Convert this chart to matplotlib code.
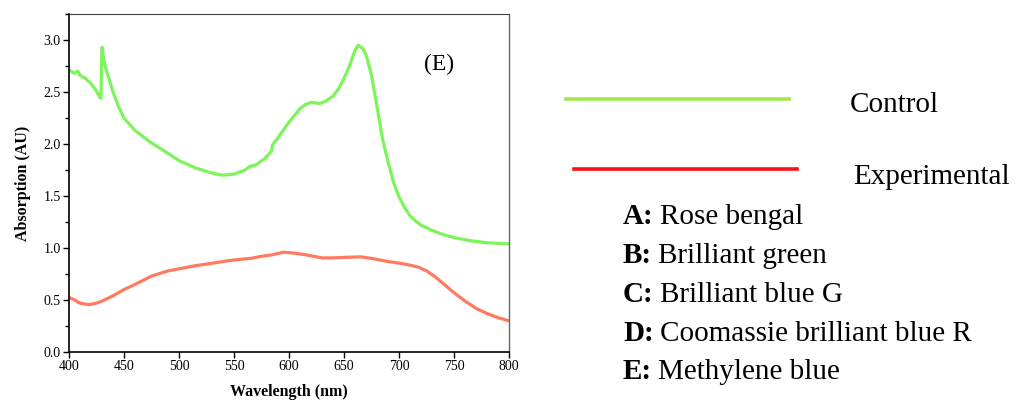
import matplotlib
matplotlib.use("Agg")
import matplotlib.pyplot as plt
from matplotlib.ticker import MultipleLocator

plt.rcParams['font.family'] = ['Liberation Serif', 'DejaVu Serif']

# Control (green) spectrum
ctrl_wl = [400, 405, 408, 410, 415, 420, 425, 428, 429, 430, 431, 433, 436, 440, 445, 450, 460,
           475, 490, 500, 515, 530, 540, 550, 560, 564, 566, 570, 578, 584, 585, 590, 600,
           610, 615, 620, 628, 633, 640, 645, 650, 655, 660, 663, 667, 670, 675, 680, 685,
           690, 695, 700, 705, 710, 715, 720, 730, 740, 750, 765, 780, 800]
ctrl_abs = [2.71, 2.68, 2.70, 2.66, 2.63, 2.58, 2.51, 2.45, 2.44, 2.93, 2.85, 2.74, 2.64, 2.50, 2.36, 2.25, 2.13,
            2.01, 1.91, 1.84, 1.77, 1.72, 1.70, 1.71, 1.75, 1.78, 1.79, 1.80, 1.86, 1.93, 1.99, 2.06, 2.21,
            2.34, 2.38, 2.40, 2.39, 2.41, 2.46, 2.53, 2.63, 2.75, 2.90, 2.95, 2.92, 2.86, 2.66, 2.36, 2.05,
            1.83, 1.63, 1.49, 1.39, 1.31, 1.26, 1.22, 1.17, 1.13, 1.10, 1.07, 1.05, 1.04]

# Experimental (red) spectrum
exp_wl = [400, 405, 410, 418, 425, 430, 440, 450, 460, 475, 490, 500, 515, 525, 540, 550, 565,
          575, 585, 595, 605, 615, 630, 640, 650, 665, 675, 690, 700, 710, 718, 725, 732,
          740, 750, 760, 770, 780, 790, 800]
exp_abs = [0.525, 0.50, 0.47, 0.455, 0.47, 0.49, 0.54, 0.60, 0.65, 0.73, 0.78, 0.80, 0.83, 0.845, 0.87, 0.885, 0.90,
           0.92, 0.935, 0.96, 0.95, 0.935, 0.905, 0.905, 0.91, 0.915, 0.90, 0.87, 0.855, 0.835, 0.815, 0.78, 0.73,
           0.66, 0.57, 0.49, 0.42, 0.37, 0.33, 0.30]

legend_labels = ["Control", "Experimental"]
dye_keys = ["A:", "B:", "C:", "D:", "E:"]
dye_names = ["Rose bengal", "Brilliant green", "Brilliant blue G", "Coomassie brilliant blue R", "Methylene blue"]

fig = plt.figure(figsize=(10.25, 4.03), dpi=100)
ax = fig.add_axes([69/1025, 1-352/403, 440/1025, 338/403])

ax.plot(ctrl_wl, ctrl_abs, color='#7CF55A', lw=2.3, solid_joinstyle='round')
ax.plot(exp_wl, exp_abs, color='#FF7A5E', lw=2.3, solid_joinstyle='round')

ax.set_xlim(400, 800)
ax.set_ylim(0, 3.25)
ax.xaxis.set_major_locator(MultipleLocator(50))
ax.yaxis.set_major_locator(MultipleLocator(0.5))
ax.yaxis.set_minor_locator(MultipleLocator(0.25))
ax.yaxis.set_major_formatter(matplotlib.ticker.FormatStrFormatter('%.1f'))
ax.tick_params(axis='both', which='major', direction='out', length=4, width=1, labelsize=10, pad=2)
ax.tick_params(axis='y', which='minor', direction='out', length=3, width=1)
ax.tick_params(top=False, right=False)
for s in ['left', 'bottom']:
    ax.spines[s].set_linewidth(1.2)
ax.spines['top'].set_linewidth(0.8)
ax.spines['right'].set_linewidth(1.0)
ax.spines['right'].set_color('#666666')
ax.spines['top'].set_color('#444444')

ax.set_xlabel('Wavelength (nm)', fontsize=11.5, fontweight='bold', labelpad=8)
ax.set_ylabel('Absorption (AU)', fontsize=11.5, fontweight='bold', labelpad=9)
ax.text(0.84, 0.852, '(E)', transform=ax.transAxes, fontsize=17, ha='center', va='center')

# Legend drawn manually in figure coordinates
W, H = 1025, 403
FS = 21
fig.add_artist(plt.Line2D([566/W, 789/W], [1-99/H, 1-99/H], color='#A3E84A', lw=2.6))
fig.add_artist(plt.Line2D([574/W, 797/W], [1-169/H, 1-169/H], color='#FF1010', lw=2.6))
fig.text(850/W, 1-112/H, legend_labels[0], fontsize=FS, va='baseline', ha='left')
fig.text(853/W, 1-184/H, legend_labels[1], fontsize=FS, va='baseline', ha='left')

ys = [224, 263, 302, 341, 379]
for k, n, y in zip(dye_keys, dye_names, ys):
    t = fig.text(623/W, 1-y/H, k, fontsize=FS, fontweight='bold', va='baseline', ha='left')
    fig.canvas.draw()
    bb = t.get_window_extent()
    fig.text(bb.x1/W + 6/W, 1-y/H, n, fontsize=FS, va='baseline', ha='left')

fig.savefig('out.png', dpi=100)
